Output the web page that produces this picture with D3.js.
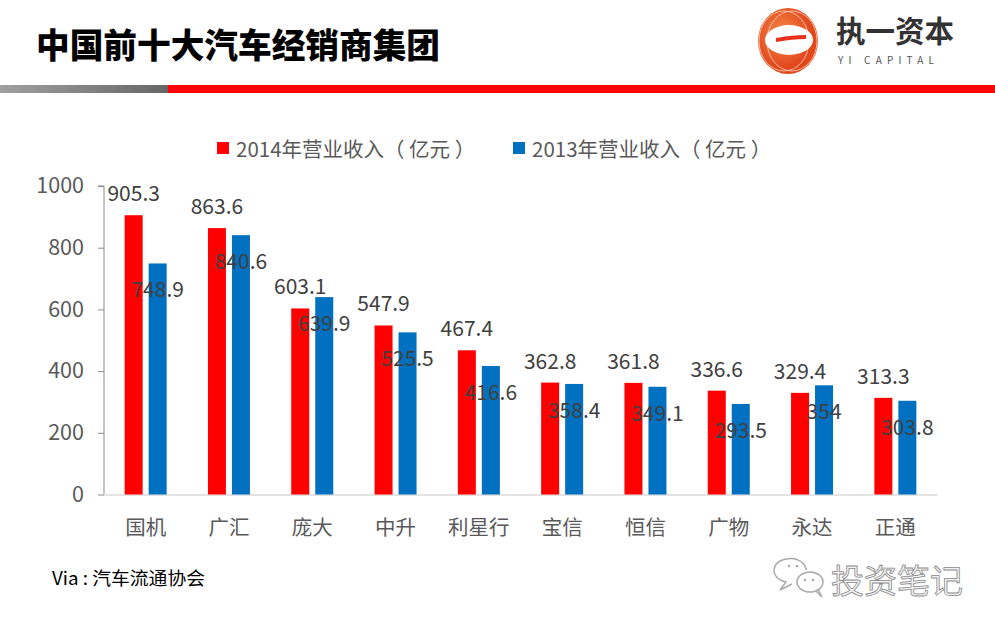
<!DOCTYPE html>
<html>
<head>
<meta charset="utf-8">
<script src="https://cdn.jsdelivr.net/npm/d3@7/dist/d3.min.js"></script>
<style>
html,body{margin:0;padding:0;background:#fff;}
svg{display:block;}
text{font-family:"Noto Sans CJK SC","Microsoft YaHei",sans-serif;}
</style>
</head>
<body>
<script>
const categories = ["国机","广汇","庞大","中升","利星行","宝信","恒信","广物","永达","正通"];
const seriesNames = ["2014年营业收入（ 亿元 ）","2013年营业收入（ 亿元 ）"];
const values2014 = [905.3, 863.6, 603.1, 547.9, 467.4, 362.8, 361.8, 336.6, 329.4, 313.3];
const values2013 = [748.9, 840.6, 639.9, 525.5, 416.6, 358.4, 349.1, 293.5, 354, 303.8];
const yTicks = [0, 200, 400, 600, 800, 1000];
const colors = ["#ff0000", "#0070c0"];

const W = 995, H = 629;
const svg = d3.select("body").append("svg").attr("width", W).attr("height", H);
svg.append("rect").attr("width", W).attr("height", H).attr("fill", "#fff");

// Header
svg.append("text").attr("x", 36).attr("y", 58)
  .attr("font-size", 34).attr("font-weight", 900).attr("fill", "#000")
  .attr("textLength", 404).attr("lengthAdjust", "spacingAndGlyphs")
  .text("中国前十大汽车经销商集团");

const defs = svg.append("defs");
const g1 = defs.append("linearGradient").attr("id", "grayGrad");
g1.append("stop").attr("offset", "0%").attr("stop-color", "#a0a0a0");
g1.append("stop").attr("offset", "100%").attr("stop-color", "#666");
const g2 = defs.append("radialGradient").attr("id", "logoGrad").attr("cx", "40%").attr("cy", "40%");
g2.append("stop").attr("offset", "0%").attr("stop-color", "#f58a4a");
g2.append("stop").attr("offset", "100%").attr("stop-color", "#e2481c");

svg.append("rect").attr("x", 0).attr("y", 85).attr("width", 168).attr("height", 8).attr("fill", "url(#grayGrad)");
svg.append("rect").attr("x", 168).attr("y", 85).attr("width", W - 168).attr("height", 8).attr("fill", "#ff0000");

// Logo
const logo = svg.append("g");
logo.append("ellipse").attr("cx", 788).attr("cy", 41).attr("rx", 30).attr("ry", 33).attr("fill", "url(#logoGrad)");
logo.append("ellipse").attr("cx", 784).attr("cy", 41).attr("rx", 25).attr("ry", 30).attr("fill", "none").attr("stroke", "#fcd6c0").attr("stroke-width", 0.8);
logo.append("ellipse").attr("cx", 792).attr("cy", 41).attr("rx", 25).attr("ry", 30).attr("fill", "none").attr("stroke", "#fcd6c0").attr("stroke-width", 0.8);
logo.append("ellipse").attr("cx", 789).attr("cy", 40).attr("rx", 24).attr("ry", 15).attr("fill", "#fff");
logo.append("path").attr("d", "M776,38 Q792,35 806,35 L806,39 Q792,39 776,42 Z").attr("fill", "#e8301c");
logo.append("text").attr("x", 836).attr("y", 42).attr("font-size", 29.5).attr("font-weight", 700).attr("fill", "#333").text("执一资本");
logo.append("text").attr("x", 838).attr("y", 64).attr("font-size", 10).attr("letter-spacing", 5.2).attr("fill", "#555")
  .attr("font-family", "DejaVu Sans").text("YI CAPITAL");

// Chart
const margin = {left: 104, right: 937, top: 186, bottom: 494.5};
const x0 = d3.scaleBand().domain(categories).range([margin.left, margin.right]).paddingInner(0).paddingOuter(0);
const groupW = 42;
const x1 = d3.scaleBand().domain([0, 1]).range([0, groupW]).paddingInner(0.25).paddingOuter(0);
const y = d3.scaleLinear().domain([0, 1000]).range([margin.bottom, margin.top]);

// Y axis
const yAxis = svg.append("g").attr("transform", `translate(${margin.left},0)`)
  .call(d3.axisLeft(y).tickValues(yTicks).tickSize(6).tickPadding(14).tickFormat(d3.format("d")));
yAxis.select(".domain").attr("stroke", "#8c8c8c").attr("d", `M-6,${y(1000)}H0V${y(0)}`);
yAxis.selectAll(".tick line").attr("stroke", "#8c8c8c");
yAxis.selectAll(".tick text").attr("font-size", 21.5).attr("fill", "#595959")
  .attr("font-family", "'Noto Sans CJK SC', sans-serif");

// X axis
const xAxis = svg.append("g").attr("transform", `translate(0,${margin.bottom})`)
  .call(d3.axisBottom(x0).tickSize(0).tickPadding(26));
xAxis.select(".domain").attr("stroke", "#c8c8c8");
xAxis.selectAll(".tick text").attr("font-size", 20.5).attr("fill", "#595959")
  .attr("font-family", "'Noto Sans CJK SC', sans-serif");

const data = categories.map((c, i) => ({c, v: [values2014[i], values2013[i]]}));
const groups = svg.append("g").selectAll("g").data(data).join("g")
  .attr("transform", d => `translate(${x0(d.c) + x0.bandwidth() / 2 - groupW / 2},0)`);

groups.selectAll("rect").data(d => d.v.map((v, s) => ({v, s}))).join("rect")
  .attr("x", d => x1(d.s)).attr("width", x1.bandwidth())
  .attr("y", d => y(d.v)).attr("height", d => y(0) - y(d.v))
  .attr("fill", d => colors[d.s]);

groups.selectAll("text.lbl").data(d => d.v.map((v, s) => ({v, s}))).join("text")
  .attr("class", "lbl")
  .attr("x", d => x1(d.s) + x1.bandwidth() / 2)
  .attr("y", d => y(d.v) + (d.s === 0 ? -23 : 25))
  .attr("dominant-baseline", "central")
  .attr("text-anchor", "middle").attr("font-size", 21).attr("fill", "#404040")
  .text(d => d.v);

// Legend
const legend = svg.append("g");
const legX = [217, 513];
seriesNames.forEach((n, i) => {
  legend.append("rect").attr("x", legX[i]).attr("y", 142).attr("width", 12).attr("height", 12).attr("fill", colors[i]);
  legend.append("text").attr("x", legX[i] + 19).attr("y", 148).attr("dominant-baseline", "central")
    .attr("font-size", 20.5).attr("fill", "#595959").text(n);
});

// Footer
svg.append("text").attr("x", 52).attr("y", 585).attr("font-size", 18).attr("fill", "#000")
  .attr("textLength", 153).attr("lengthAdjust", "spacingAndGlyphs").text("Via : 汽车流通协会");

const wm = svg.append("g");
wm.append("path").attr("d", "M806,570 A16,12 0 1 0 786,582 L780,590 L792,584")
  .attr("fill", "none").attr("stroke", "#aaa").attr("stroke-width", 1.5);
wm.append("ellipse").attr("cx", 810).attr("cy", 582).attr("rx", 13).attr("ry", 10).attr("fill", "#fff").attr("stroke", "#aaa").attr("stroke-width", 1.5);
wm.append("path").attr("d", "M816,591 L822,597 L818,589").attr("fill", "none").attr("stroke", "#aaa").attr("stroke-width", 1.5);
[[789,566],[797,566],[805,580],[813,580]].forEach(p => wm.append("circle").attr("cx", p[0]).attr("cy", p[1]).attr("r", 1.3).attr("fill", "#aaa"));
wm.append("text").attr("x", 831).attr("y", 579).attr("dominant-baseline", "central")
  .attr("font-size", 33).attr("fill", "#f2f2f2").attr("stroke", "#8a8a8a").attr("stroke-width", 0.8)
  .text("投资笔记");
</script>
</body>
</html>
